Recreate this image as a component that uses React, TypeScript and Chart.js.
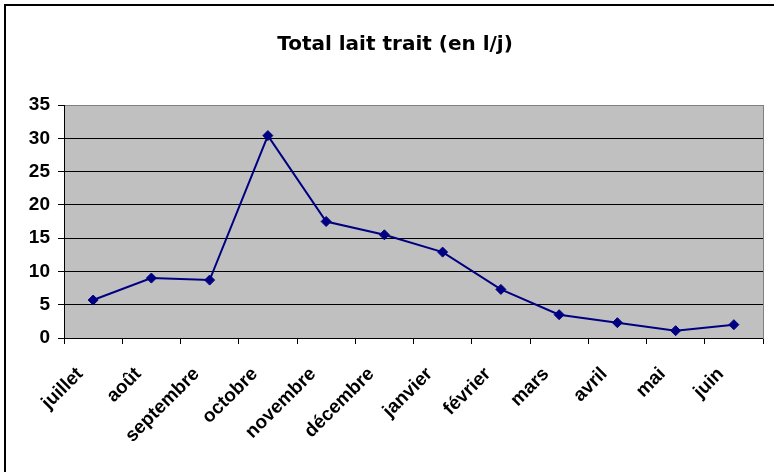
import React, { useEffect, useRef } from "react";
import { Chart, registerables } from "chart.js";

Chart.register(...registerables);

const chartTitle = "Total lait trait (en l/j)";
const months = [
  "juillet",
  "août",
  "septembre",
  "octobre",
  "novembre",
  "décembre",
  "janvier",
  "février",
  "mars",
  "avril",
  "mai",
  "juin",
];
const totalLait = [5.7, 9.0, 8.7, 30.4, 17.5, 15.5, 12.9, 7.3, 3.5, 2.3, 1.1, 2.0];
const yTicks = [0, 5, 10, 15, 20, 25, 30, 35];

const xLabelFont = { family: "'Liberation Sans', Arial, sans-serif", size: 19, weight: "bold" as const };
const yLabelFont = { family: "'Liberation Sans', Arial, sans-serif", size: 19, weight: "bold" as const };

export default function App() {
  const ref = useRef<HTMLCanvasElement | null>(null);

  useEffect(() => {
    if (!ref.current) return;
    const plotBg = {
      id: "plotBg",
      beforeDraw(chart: any) {
        const { ctx, chartArea: a } = chart;
        ctx.save();
        ctx.fillStyle = "#c0c0c0";
        ctx.fillRect(a.left, a.top, a.right - a.left, a.bottom - a.top);
        ctx.restore();
      },
    };
    const chart = new Chart(ref.current, {
      type: "line",
      data: {
        labels: months,
        datasets: [
          {
            data: totalLait,
            borderColor: "#000080",
            backgroundColor: "#000080",
            borderWidth: 2,
            pointStyle: "rectRot",
            pointRadius: 5,
            pointBorderWidth: 1,
            pointBorderColor: "#000080",
            pointBackgroundColor: "#000080",
            tension: 0,
          },
        ],
      },
      options: {
        animation: false,
        responsive: false,
        layout: { padding: { left: 0, right: 10, top: 0, bottom: 0 } },
        plugins: {
          legend: { display: false },
          tooltip: { enabled: false },
          title: {
            display: true,
            text: chartTitle,
            color: "#000",
            font: { family: "'DejaVu Sans', sans-serif", size: 20, weight: "bold" },
            padding: { top: 33, bottom: 48 },
          },
        },
        scales: {
          x: {
            offset: true,
            grid: {
              offset: true,
              drawOnChartArea: false,
              drawTicks: true,
              tickLength: 6,
              color: "#000",
              tickColor: "#000",
            },
            border: { display: true, color: "#000", width: 1 },
            ticks: {
              minRotation: 45,
              maxRotation: 45,
              autoSkip: false,
              padding: 19,
              labelOffset: -13,
              color: "#000",
              font: xLabelFont,
            },
            afterFit: (s: any) => {
              s.height = 134;
            },
          },
          y: {
            min: 0,
            max: 35,
            afterBuildTicks: (s: any) => {
              s.ticks = yTicks.map((v) => ({ value: v }));
            },
            ticks: { padding: 8, color: "#000", font: yLabelFont },
            grid: {
              color: (c: any) => (c.tick && c.tick.value === 35 ? "#808080" : "#000"),
              tickColor: "#000",
              tickLength: 6,
              lineWidth: 1,
            },
            border: { display: true, color: "#000", width: 1 },
            afterFit: (s: any) => {
              s.width = 64;
            },
          },
          y2: {
            position: "right",
            min: 0,
            max: 35,
            ticks: { display: false },
            grid: { drawOnChartArea: false, drawTicks: false },
            border: { display: true, color: "#808080", width: 1 },
            afterFit: (s: any) => {
              s.width = 27;
            },
          },
        },
      } as any,
      plugins: [plotBg],
    });
    return () => chart.destroy();
  }, []);

  return (
    <div
      style={{
        position: "fixed",
        left: 0,
        top: 0,
        width: 774,
        height: 472,
        overflow: "hidden",
        background: "#fff",
      }}
    >
      <canvas ref={ref} width={800} height={472} style={{ position: "absolute", left: 0, top: 0, width: 800, height: 472 }} />
      <div
        style={{
          position: "absolute",
          left: 4,
          top: 4,
          width: 900,
          height: 900,
          border: "2px solid #000",
          pointerEvents: "none",
        }}
      />
    </div>
  );
}
